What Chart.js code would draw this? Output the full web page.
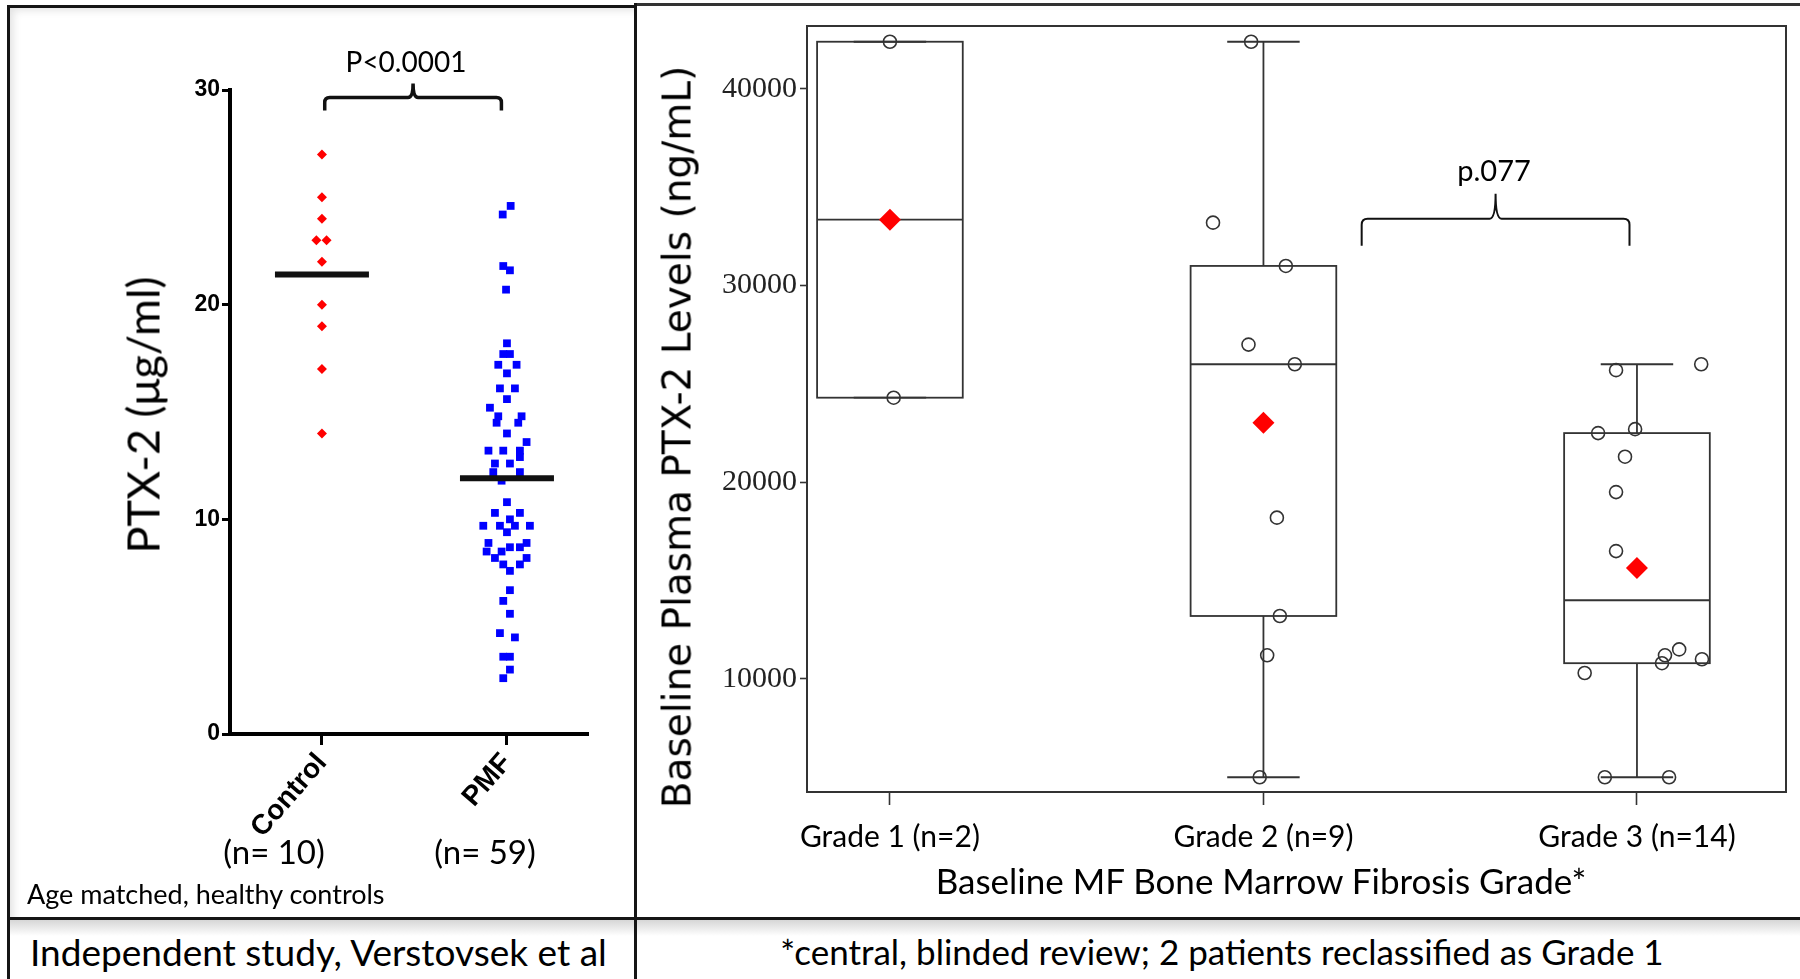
<!DOCTYPE html>
<html>
<head>
<meta charset="utf-8">
<script src="https://cdn.jsdelivr.net/npm/chart.js@4.4.1/dist/chart.umd.min.js"></script>
<style>
  body { margin: 0; background: #fff; }
  #page { position: relative; width: 1800px; height: 979px; overflow: hidden; background: #fff; font-family: Lato, sans-serif; color: #000; }
  canvas { position: absolute; }
  .ln { position: absolute; background: #151515; }
  .t { position: absolute; white-space: nowrap; transform: translate(-50%, -50%); line-height: 1; }
  .l { position: absolute; white-space: nowrap; transform: translate(0, -50%); line-height: 1; }
  .rot { transform: translate(-50%, -50%) rotate(-90deg); }
</style>
</head>
<body>
<div id="page">
  <!-- soft shadows of the table cells -->
  <div style="position:absolute;left:10px;top:7px;width:624px;height:910px;box-shadow:inset 8px 8px 9px -5px rgba(0,0,0,0.12)"></div>
  <div style="position:absolute;left:10px;top:920px;width:1790px;height:16px;background:linear-gradient(#d6d6d6,#fff)"></div>

  <canvas id="leftChart" width="636" height="918" style="left:0;top:0"></canvas>
  <canvas id="rightChart" width="1164" height="913" style="left:636px;top:5px"></canvas>

  <!-- table lines -->
  <div class="ln" style="left:7px;top:5px;width:630px;height:2.5px"></div>
  <div class="ln" style="left:634px;top:3px;width:1166px;height:2.5px;background:#333"></div>
  <div class="ln" style="left:7px;top:5px;width:3px;height:974px"></div>
  <div class="ln" style="left:634px;top:3px;width:3px;height:976px"></div>
  <div class="ln" style="left:7px;top:917px;width:1793px;height:3px"></div>

  <!-- texts -->
  <div class="t" style="left:406px;top:61px;font-size:28px">P&lt;0.0001</div>
  <div class="t rot" style="left:143px;top:415px;font-size:45px">PTX-2 (μg/ml)</div>
  <div class="t" id="n1" style="left:274px;top:851px;font-size:33px"></div>
  <div class="t" id="n2" style="left:485px;top:851px;font-size:33px"></div>
  <div class="l" style="left:27px;top:893px;font-size:27px">Age matched, healthy controls</div>
  <div class="l" style="left:30px;top:951px;font-size:37px">Independent study, Verstovsek et al</div>

  <div class="t rot" style="left:677px;top:437px;font-size:39px;font-family:'DejaVu Sans'">Baseline Plasma PTX-2 Levels (ng/mL)</div>
  <div class="t" style="left:1261px;top:880px;font-size:35px">Baseline MF Bone Marrow Fibrosis Grade*</div>
  <div class="t" style="left:1222px;top:951px;font-size:35px">*central, blinded review; 2 patients reclassified as Grade 1</div>
  <div class="t" style="left:1494px;top:169px;font-size:29px">p.077</div>
</div>

<script>
// ---- left panel: PTX-2 in controls vs PMF ----
const groups = ["Control", "PMF"];
const groupSizes = ["(n= 10)", "(n= 59)"];
const controlValues = [27, 25, 24, 23, 23, 22, 20, 19, 17, 14];
const controlJitter = [0, 0, 0, -0.03, 0.025, 0, 0, 0, 0, 0];
const pmfValues = [24.6, 24.2, 21.8, 21.6, 20.7, 18.2, 17.7, 17.7, 17.2, 17.2,
  16.8, 16.1, 16.1, 15.6, 15.2, 14.8, 14.8, 14.5, 14.5, 14.0,
  13.6, 13.2, 13.2, 13.2, 12.9, 12.6, 12.6, 12.2, 12.2, 11.8,
  10.8, 10.3, 10.3, 10.0, 9.7, 9.7, 9.7, 9.7, 9.4, 8.9,
  8.9, 8.7, 8.7, 8.5, 8.5, 8.2, 8.2, 7.9, 7.9, 7.6,
  6.7, 6.2, 5.6, 4.7, 4.5, 3.6, 3.6, 3.0, 2.6];
const pmfJitter = [0.02, -0.023, -0.02, 0.016, -0.005, 0, -0.02, 0.016, -0.047, 0.052,
  0, -0.038, 0.043, 0, -0.092, -0.047, 0.079, -0.056, 0.061, 0,
  0.106, -0.1, -0.02, 0.07, 0.07, -0.065, 0.016, -0.074, 0.07, -0.029,
  0, -0.065, 0.07, 0.016, -0.128, -0.038, 0.043, 0.124, 0, -0.1,
  0.106, 0.016, 0.07, -0.11, -0.029, -0.065, 0.106, -0.02, 0.07, 0.016,
  0.016, -0.02, 0.016, -0.038, 0.043, -0.02, 0.016, 0.016, -0.02];
const leftTicks = [0, 10, 20, 30];

// ---- right panel: PTX-2 by fibrosis grade ----
const grades = ["Grade 1 (n=2)", "Grade 2 (n=9)", "Grade 3 (n=14)"];
const grade1Values = [42400, 24300];
const grade1Jitter = [0, 0.01];
const grade2Values = [42400, 33200, 31000, 27000, 26000, 18200, 13200, 11200, 5000];
const grade2Jitter = [-0.033, -0.135, 0.06, -0.04, 0.084, 0.036, 0.044, 0.01, -0.01];
const grade3Values = [25700, 26000, 22500, 22700, 21300, 19500, 16500, 11500, 11200, 10800, 11000, 10300, 5000, 5000];
const grade3Jitter = [-0.056, 0.172, -0.104, -0.005, -0.032, -0.056, -0.056, 0.113, 0.075, 0.067, 0.174, -0.14, -0.086, 0.086];
const rightTicks = [10000, 20000, 30000, 40000];

const gradeValues = [grade1Values, grade2Values, grade3Values];
const gradeJitter = [grade1Jitter, grade2Jitter, grade3Jitter];

document.getElementById("n1").textContent = groupSizes[0];
document.getElementById("n2").textContent = groupSizes[1];

const mean = (a) => a.reduce((s, v) => s + v, 0) / a.length;
const toPoints = (vals, jit, cx) => vals.map((v, i) => ({ x: cx + jit[i], y: v }));

// SAS style percentiles (definition 5), the box plot was made that way
const pctl = (sorted, p) => {
  const np = sorted.length * p;
  const j = Math.floor(np);
  if (np - j === 0) return (sorted[j - 1] + sorted[j]) / 2;
  return sorted[j];
};
const boxStats = (vals) => {
  const s = [...vals].sort((a, b) => a - b);
  const q1 = pctl(s, 0.25), med = pctl(s, 0.5), q3 = pctl(s, 0.75);
  const iqr = q3 - q1;
  const lo = s.find((v) => v >= q1 - 1.5 * iqr);
  const hi = [...s].reverse().find((v) => v <= q3 + 1.5 * iqr);
  return { q1, med, q3, lo, hi };
};

// curly bracket over two groups
const bracePlugin = {
  id: "brace",
  afterDraw(chart, args, o) {
    const { ctx, scales: { x, y } } = chart;
    const x1 = x.getPixelForValue(o.from), x2 = x.getPixelForValue(o.to);
    const yy = y.getPixelForValue(o.at), xm = (x1 + x2) / 2, r = o.r;
    ctx.save();
    ctx.strokeStyle = "#111";
    ctx.lineWidth = o.width;
    ctx.beginPath();
    ctx.moveTo(x1, yy + o.leg);
    ctx.lineTo(x1, yy + r);
    ctx.quadraticCurveTo(x1, yy, x1 + r, yy);
    ctx.lineTo(xm - r, yy);
    ctx.quadraticCurveTo(xm, yy, xm, yy - o.tip);
    ctx.quadraticCurveTo(xm, yy, xm + r, yy);
    ctx.lineTo(x2 - r, yy);
    ctx.quadraticCurveTo(x2, yy, x2, yy + r);
    ctx.lineTo(x2, yy + o.leg);
    ctx.stroke();
    ctx.restore();
  },
};

// box plots + frame of the right plot
const boxHalf = 0.195, capHalf = 0.097;
const boxPlugin = {
  id: "boxes",
  beforeDatasetsDraw(chart) {
    const { ctx, chartArea: a, scales: { x, y } } = chart;
    const seg = (x1, y1, x2, y2) => {
      ctx.beginPath(); ctx.moveTo(x1, y1); ctx.lineTo(x2, y2); ctx.stroke();
    };
    ctx.save();
    ctx.strokeStyle = "#333";
    ctx.lineWidth = 2;
    ctx.strokeRect(a.left, a.top, a.right - a.left, a.bottom - a.top);
    ctx.lineWidth = 1.8;
    gradeValues.forEach((vals, i) => {
      const s = boxStats(vals);
      const c = i + 1;
      const px = (v) => x.getPixelForValue(v), py = (v) => y.getPixelForValue(v);
      seg(px(c), py(s.hi), px(c), py(s.q3));
      seg(px(c), py(s.q1), px(c), py(s.lo));
      seg(px(c - capHalf), py(s.hi), px(c + capHalf), py(s.hi));
      seg(px(c - capHalf), py(s.lo), px(c + capHalf), py(s.lo));
      ctx.strokeRect(px(c - boxHalf), py(s.q3), px(c + boxHalf) - px(c - boxHalf), py(s.q1) - py(s.q3));
      seg(px(c - boxHalf), py(s.med), px(c + boxHalf), py(s.med));
    });
    ctx.restore();
  },
};

const lineHalf = 0.254;
const meanLine = (vals, c) => [{ x: c - lineHalf, y: mean(vals) }, { x: c + lineHalf, y: mean(vals) }];

new Chart(document.getElementById("leftChart"), {
  type: "scatter",
  data: {
    datasets: [
      { data: meanLine(controlValues, 1), showLine: true, borderColor: "#111", borderWidth: 6, pointRadius: 0, order: 0 },
      { data: meanLine(pmfValues, 2), showLine: true, borderColor: "#111", borderWidth: 6, pointRadius: 0, order: 0 },
      { data: toPoints(controlValues, controlJitter, 1), pointStyle: "rectRot", pointRadius: 5, backgroundColor: "#ff0000", borderWidth: 0, order: 1 },
      { data: toPoints(pmfValues, pmfJitter, 2), pointStyle: "rect", pointRadius: 5.5, backgroundColor: "#0000ff", borderWidth: 0, order: 1 },
    ],
  },
  options: {
    responsive: false,
    animation: false,
    layout: { autoPadding: false, padding: { left: 0, top: 90, right: 48, bottom: 0 } },
    plugins: {
      legend: { display: false },
      tooltip: { enabled: false },
      brace: { from: 1.015, to: 1.97, at: 29.65, leg: 13, tip: 14, r: 5, width: 3.5 },
    },
    scales: {
      x: {
        type: "linear",
        min: 0.503,
        max: 2.438,
        afterBuildTicks: (s) => { s.ticks = [1, 2].map((v) => ({ value: v })); },
        afterFit: (s) => { s.height = 184; },
        ticks: {
          callback: (v) => groups[v - 1],
          minRotation: 49,
          maxRotation: 49,
          padding: 2,
          color: "#000",
          font: { family: "Liberation Sans", size: 28, weight: "bold" },
        },
        grid: { drawOnChartArea: false, tickLength: 11, tickWidth: 3, tickColor: "#000" },
        border: { color: "#000", width: 4 },
      },
      y: {
        min: 0,
        max: 30,
        afterBuildTicks: (s) => { s.ticks = leftTicks.map((v) => ({ value: v })); },
        afterFit: (s) => { s.width = 230; },
        ticks: { padding: 2, color: "#000", font: { family: "Liberation Sans", size: 23, weight: "bold" } },
        grid: { drawOnChartArea: false, tickLength: 8, tickWidth: 3, tickColor: "#000" },
        border: { color: "#000", width: 4 },
      },
    },
  },
  plugins: [bracePlugin],
});

new Chart(document.getElementById("rightChart"), {
  type: "scatter",
  data: {
    datasets: [
      {
        data: gradeValues.map((vals, i) => ({ x: i + 1, y: mean(vals) })),
        pointStyle: "rectRot", pointRadius: 11, backgroundColor: "#ff0000", borderWidth: 0, order: 0,
      },
      {
        data: gradeValues.flatMap((vals, i) => toPoints(vals, gradeJitter[i], i + 1)),
        pointStyle: "circle", pointRadius: 6.5, borderColor: "#333", borderWidth: 1.6,
        backgroundColor: "rgba(0,0,0,0)", order: 1,
      },
    ],
  },
  options: {
    responsive: false,
    animation: false,
    layout: { autoPadding: false, padding: { left: 0, top: 20, right: 14, bottom: 0 } },
    plugins: {
      legend: { display: false },
      tooltip: { enabled: false },
      brace: { from: 2.263, to: 2.98, at: 33400, leg: 27, tip: 25, r: 6, width: 2 },
    },
    scales: {
      x: {
        type: "linear",
        min: 0.778,
        max: 3.399,
        afterBuildTicks: (s) => { s.ticks = [1, 2, 3].map((v) => ({ value: v })); },
        afterFit: (s) => { s.height = 126; },
        ticks: {
          callback: (v) => grades[v - 1],
          minRotation: 0,
          maxRotation: 0,
          padding: 14,
          color: "#000",
          font: { family: "Lato", size: 30 },
        },
        grid: { drawOnChartArea: false, tickLength: 13, tickWidth: 1.6, tickColor: "#333" },
        border: { color: "#333", width: 2 },
      },
      y: {
        min: 4250,
        max: 43200,
        afterBuildTicks: (s) => { s.ticks = rightTicks.map((v) => ({ value: v })); },
        afterFit: (s) => { s.width = 171; },
        ticks: {
          callback: (v) => String(v),
          padding: 3,
          color: "#222",
          font: { family: "Liberation Serif", size: 30 },
        },
        grid: { drawOnChartArea: false, tickLength: 7, tickWidth: 1.6, tickColor: "#333" },
        border: { color: "#333", width: 2 },
      },
    },
  },
  plugins: [boxPlugin, bracePlugin],
});
</script>
</body>
</html>
